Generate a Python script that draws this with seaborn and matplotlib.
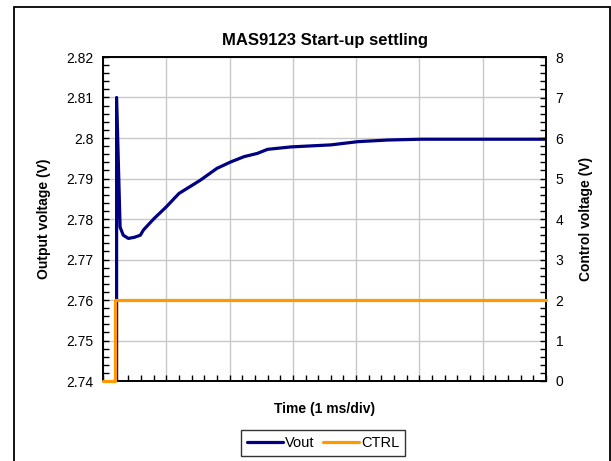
import pandas as pd
import matplotlib
matplotlib.use("Agg")
import matplotlib.pyplot as plt
import seaborn as sns
from matplotlib.patches import Rectangle
from matplotlib.ticker import MultipleLocator, NullFormatter

# data (time in ms)
vout_time = [0.0, 0.215, 0.215, 0.27, 0.32, 0.40, 0.50, 0.59, 0.64, 0.80, 1.00, 1.20,
             1.54, 1.80, 2.02, 2.23, 2.44, 2.60, 2.97, 3.60, 4.03, 4.50, 5.03, 6.00, 7.00]
vout = [2.70, 2.70, 2.810, 2.778, 2.776, 2.7752, 2.7755, 2.776, 2.7773, 2.780, 2.783, 2.7863,
        2.7896, 2.7925, 2.7941, 2.7954, 2.7962, 2.7972, 2.7978, 2.7983, 2.7991, 2.7995, 2.7997,
        2.7997, 2.7997]
ctrl_time = [0.0, 0.19, 0.19, 7.0]
ctrl = [0.0, 0.0, 2.0, 2.0]

vout_df = pd.DataFrame({"t": vout_time, "v": vout})
ctrl_df = pd.DataFrame({"t": ctrl_time, "v": ctrl})

sns.set_theme(style="white")
plt.rcParams['font.family'] = ['Liberation Sans', 'DejaVu Sans']
plt.rcParams['text.color'] = 'black'
plt.rcParams['axes.labelcolor'] = 'black'

fig = plt.figure(figsize=(6.11, 4.61), dpi=100)
ax = fig.add_axes([103 / 611, 1 - 381 / 461, 443 / 611, 324 / 461])
ax2 = ax.twinx()

sns.lineplot(data=vout_df, x="t", y="v", ax=ax, color="#000080", linewidth=2.3,
             sort=False, estimator=None, label="Vout", legend=False)
sns.lineplot(data=ctrl_df, x="t", y="v", ax=ax2, color="#FF9900", linewidth=2.3,
             sort=False, estimator=None, label="CTRL", legend=False)
ctrl_line = ax2.get_lines()[0]
ctrl_line.set_clip_on(False)
ctrl_line.set_zorder(5)

ax.set_xlim(0, 7)
ax.set_ylim(2.74, 2.82)
ax2.set_ylim(0, 8)

ax.xaxis.set_major_locator(MultipleLocator(1))
ax.xaxis.set_minor_locator(MultipleLocator(0.2))
ax.xaxis.set_major_formatter(NullFormatter())
ax.set_yticks([2.74, 2.75, 2.76, 2.77, 2.78, 2.79, 2.80, 2.81, 2.82])
ax.set_yticklabels(["2.74", "2.75", "2.76", "2.77", "2.78", "2.79", "2.8", "2.81", "2.82"])
ax.yaxis.set_minor_locator(MultipleLocator(0.002))
ax2.yaxis.set_major_locator(MultipleLocator(1))
ax2.yaxis.set_minor_locator(MultipleLocator(0.2))

ax.grid(True, which="major", color="#c8c8c8", linewidth=1)
ax.set_axisbelow(True)

for a in (ax, ax2):
    a.tick_params(which="both", direction="in", length=4, width=1, color="black",
                  labelsize=10, labelcolor="black")
    for s in a.spines.values():
        s.set_color("black")
        s.set_linewidth(1.2)
ax.tick_params(axis="x", which="both", bottom=True, top=False, labelbottom=False)
ax.tick_params(axis="y", which="both", left=True, right=False, pad=7)
ax2.tick_params(axis="y", which="both", right=True, left=False, pad=7)

ax.set_title("MAS9123 Start-up settling", fontsize=12, fontweight="bold", pad=9)
ax.set_xlabel("Time (1 ms/div)", fontsize=10, fontweight="bold", labelpad=15)
ax.set_ylabel("Output voltage (V)", fontsize=10, fontweight="bold", labelpad=11)
ax2.set_ylabel("Control voltage (V)", fontsize=10, fontweight="bold", labelpad=11)

h1, l1 = ax.get_legend_handles_labels()
h2, l2 = ax2.get_legend_handles_labels()
leg = fig.legend(h1 + h2, l1 + l2, loc="center", bbox_to_anchor=(323 / 611, 1 - 443 / 461),
                 ncol=2, fontsize=10.5, frameon=True, fancybox=False, handlelength=2.5,
                 handletextpad=0.1, columnspacing=0.6, borderpad=0.4, borderaxespad=0)
leg.get_frame().set_edgecolor("black")
leg.get_frame().set_linewidth(1)

# outer chart border
fig.patches.append(Rectangle((13.5 / 611, -0.05), 596 / 611, 1.05 - 7.5 / 461,
                             transform=fig.transFigure, fill=False, edgecolor="black",
                             linewidth=1.3, clip_on=False))

fig.savefig("out.png", dpi=100)
